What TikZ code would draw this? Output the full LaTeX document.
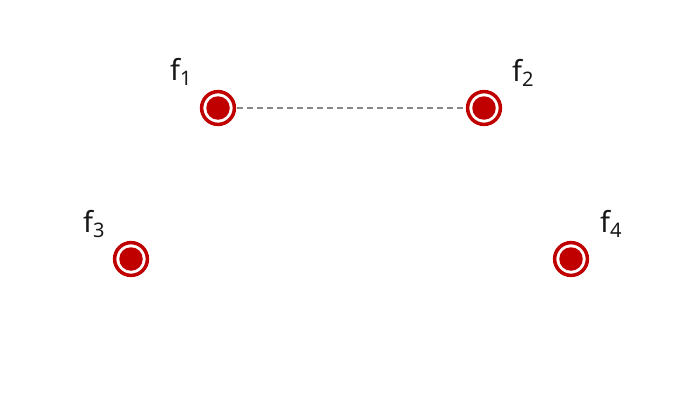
\documentclass[tikz,border=0pt]{standalone}
\usepackage{fontspec}
\setmainfont{Noto Sans}
\definecolor{dotred}{HTML}{C00000}
\definecolor{linegray}{HTML}{888888}
\newcommand{\flab}[1]{\fontsize{29}{29}\selectfont f\raisebox{-5pt}{\fontsize{20}{20}\selectfont #1}}
\begin{document}
\begin{tikzpicture}[x=1pt,y=1pt,
  dot/.style={circle,fill=dotred,minimum size=23.5pt,inner sep=0pt,
    append after command={\pgfextra{\draw[dotred,line width=3.5pt] (\tikzlastnode.center) circle[radius=16.4pt];}}},
  flabel/.style={anchor=base west,inner sep=0pt,text=black!90}]
\useasboundingbox (0,0) rectangle (700,400);
\node[dot] (f1) at (218,292) {};
\node[dot] (f2) at (484,292) {};
\node[dot] (f3) at (131,141) {};
\node[dot] (f4) at (571,141) {};
\draw[linegray,line width=1.6pt,dash pattern=on 6pt off 4pt] ([xshift=19pt]f1.center) -- ([xshift=-18pt]f2.center);
\node[flabel] (l1) at ([shift={(-48,28)}]f1.center) {\flab{1}};
\node[flabel] (l2) at ([shift={(28,27)}]f2.center) {\flab{2}};
\node[flabel] (l3) at ([shift={(-48,27)}]f3.center) {\flab{3}};
\node[flabel] (l4) at ([shift={(29,27)}]f4.center) {\flab{4}};
\end{tikzpicture}
\end{document}
